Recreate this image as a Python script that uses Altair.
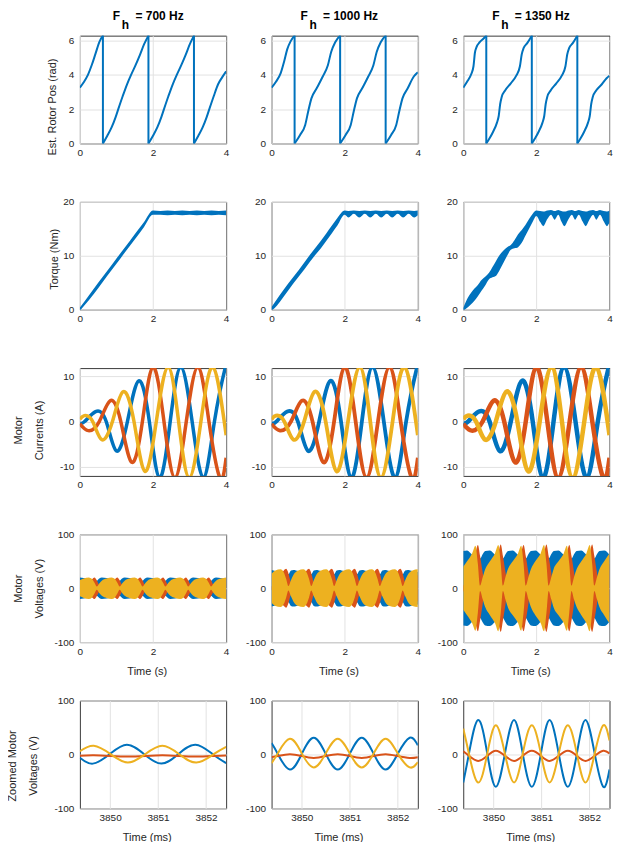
import altair as alt
import pandas as pd

# ---------------- style ----------------
BLUE, RED, YEL = "#0072BD", "#D95319", "#EDB120"
FONT = "Liberation Sans"
W, H = 146.5, 108
TWO_PI = 6.2832

# ---------------- data ----------------
FREQS = ["700", "1000", "1350"]

# Row 1 : estimated rotor position (rad); wraps 2*pi -> 0
WRAP_T = [0.63, 1.875, 3.12]
ROT1_T = [0.00, 0.10, 0.22, 0.33, 0.43, 0.54, 0.63,
          0.63, 0.75, 0.87, 0.98, 1.05, 1.17, 1.29, 1.40, 1.52, 1.64, 1.76, 1.875,
          1.875, 2.00, 2.12, 2.23, 2.30, 2.42, 2.54, 2.65, 2.77, 2.89, 3.01, 3.12,
          3.12, 3.24, 3.36, 3.47, 3.54, 3.66, 3.78, 3.89, 4.00]
ROT1_TH = [3.25, 3.55, 4.00, 4.60, 5.25, 5.95, 6.283,
           0.00, 0.45, 0.95, 1.55, 2.00, 2.75, 3.45, 4.00, 4.55, 5.15, 5.80, 6.283,
           0.00, 0.45, 0.95, 1.55, 2.00, 2.75, 3.45, 4.00, 4.55, 5.15, 5.80, 6.283,
           0.00, 0.45, 0.95, 1.55, 2.00, 2.75, 3.45, 3.85, 4.20]
ROT2_T = [0.00, 0.12, 0.25, 0.34, 0.43, 0.52, 0.63,
          0.63, 0.78, 0.92, 1.00, 1.09, 1.23, 1.40, 1.54, 1.63, 1.74, 1.875,
          1.875, 2.025, 2.165, 2.245, 2.335, 2.475, 2.645, 2.785, 2.875, 2.985, 3.12,
          3.12, 3.27, 3.41, 3.49, 3.58, 3.72, 3.89, 4.00]
ROT2_TH = [3.25, 3.60, 4.10, 4.75, 5.50, 5.95, 6.283,
           0.00, 0.50, 1.08, 1.85, 2.63, 3.20, 3.90, 4.56, 5.33, 5.90, 6.283,
           0.00, 0.50, 1.08, 1.85, 2.63, 3.20, 3.90, 4.56, 5.33, 5.90, 6.283,
           0.00, 0.50, 1.08, 1.85, 2.63, 3.20, 3.90, 4.15]
ROT3_T = [0.00, 0.12, 0.22, 0.28, 0.32, 0.36, 0.45, 0.55, 0.63,
          0.63, 0.72, 0.82, 0.92, 0.97, 1.01, 1.05, 1.15, 1.30, 1.45, 1.55, 1.60, 1.65, 1.75, 1.875,
          1.875, 1.965, 2.065, 2.165, 2.215, 2.255, 2.295, 2.395, 2.545, 2.695, 2.795, 2.845, 2.895, 2.995, 3.12,
          3.12, 3.21, 3.31, 3.41, 3.46, 3.50, 3.54, 3.64, 3.79, 3.92, 4.00]
ROT3_TH = [3.25, 3.65, 4.05, 4.50, 5.30, 5.60, 5.90, 6.10, 6.283,
           0.00, 0.30, 0.70, 1.20, 1.60, 2.30, 2.70, 3.10, 3.50, 3.95, 4.50, 5.20, 5.55, 5.85, 6.283,
           0.00, 0.30, 0.70, 1.20, 1.60, 2.30, 2.70, 3.10, 3.50, 3.95, 4.50, 5.20, 5.55, 5.85, 6.283,
           0.00, 0.30, 0.70, 1.20, 1.60, 2.30, 2.70, 3.10, 3.45, 3.80, 3.95]

# Row 2 : torque (Nm) ripple band
TQ1_T = [0.0, 0.25, 0.5, 0.75, 1.0, 1.25, 1.5, 1.75, 2.0, 2.2, 2.4, 2.6, 2.8, 3.0, 3.2, 3.4, 3.6, 3.8, 4.0]
TQ1_HI = [0.4, 2.7, 5.0, 7.2, 9.5, 11.7, 14.0, 16.2, 18.4, 18.3, 18.4, 18.3, 18.4, 18.3, 18.4, 18.3, 18.4, 18.3, 18.4]
TQ1_LO = [-0.2, 1.8, 4.0, 6.3, 8.5, 10.8, 13.0, 15.3, 17.6, 17.6, 17.5, 17.6, 17.5, 17.6, 17.5, 17.6, 17.5, 17.6, 17.5]
TQ2_T = [0.0, 0.15, 0.3, 0.45, 0.6, 0.75, 0.9, 1.05, 1.2, 1.35, 1.5, 1.65, 1.8,
         2.0, 2.1, 2.25, 2.4, 2.55, 2.7, 2.85, 3.0, 3.15, 3.3, 3.45, 3.6, 3.75, 3.9, 4.0]
TQ2_HI = [0.5, 2.0, 3.4, 4.8, 6.1, 7.4, 8.8, 10.2, 11.5, 12.8, 14.2, 15.6, 17.0,
          18.4, 18.3, 18.4, 18.3, 18.4, 18.3, 18.4, 18.3, 18.4, 18.3, 18.4, 18.3, 18.4, 18.3, 18.4]
TQ2_LO = [-0.2, 0.8, 2.1, 3.5, 4.9, 6.2, 7.5, 8.9, 10.2, 11.4, 12.8, 14.2, 15.6,
          17.6, 17.1, 17.8, 17.1, 17.8, 17.1, 17.8, 17.1, 17.8, 17.1, 17.8, 17.1, 17.8, 17.1, 17.5]
TQ3_T = [0.0, 0.1, 0.2, 0.3, 0.4, 0.5, 0.6, 0.7, 0.8, 0.9, 1.0, 1.1, 1.2, 1.3, 1.4, 1.5, 1.6, 1.7, 1.8, 1.9, 2.0,
         2.1, 2.19, 2.3, 2.4, 2.5, 2.6, 2.68, 2.77, 2.88, 2.97, 3.06, 3.16, 3.26, 3.35, 3.46, 3.55, 3.64, 3.74,
         3.84, 3.93, 4.0]
TQ3_HI = [0.3, 1.9, 3.0, 3.9, 4.6, 5.5, 6.1, 6.8, 7.9, 9.1, 10.2, 11.0, 11.6, 12.0, 12.9, 14.0, 14.8, 15.7, 16.8,
          17.8, 18.4,
          18.3, 18.2, 18.4, 18.5, 18.3, 18.5, 18.3, 18.2, 18.4, 18.5, 18.3, 18.5, 18.3, 18.2, 18.4, 18.5, 18.3,
          18.5, 18.3, 18.2, 18.4]
TQ3_LO = [-0.2, 0.3, 0.9, 1.6, 2.5, 3.5, 4.5, 5.6, 6.0, 6.3, 7.4, 8.7, 10.0, 11.1, 11.4, 11.6, 12.4, 13.7, 15.0,
          16.3, 17.4,
          16.3, 15.5, 16.8, 17.6, 16.7, 17.6, 16.4, 15.5, 16.8, 17.6, 16.7, 17.6, 16.4, 15.5, 16.8, 17.6, 16.7,
          17.6, 16.4, 15.5, 16.2]

# Row 3 : phase currents (A), same in every column
IA_T = [0.0, 0.13, 0.43, 0.72, 1.0, 1.3, 1.61, 1.9, 2.18, 2.47, 2.76, 3.07, 3.38, 3.68, 3.98, 4.0]
IA = [-0.4, 0.0, 2.2, 0.0, -6.5, 0.0, 9.0, 0.0, -12.4, 0.0, 12.0, 0.0, -12.4, 0.0, 12.0, 11.9]
IB_T = [0.0, 0.23, 0.53, 0.83, 1.12, 1.42, 1.71, 2.0, 2.3, 2.6, 2.91, 3.23, 3.53, 3.83, 4.0]
IB = [-0.5, -2.0, 0.0, 4.6, 0.0, -9.0, 0.0, 12.0, 0.0, -12.4, 0.0, 12.0, 0.0, -12.4, -8.0]
IC_T = [0.0, 0.12, 0.35, 0.6, 0.89, 1.18, 1.48, 1.78, 2.09, 2.41, 2.7, 2.99, 3.31, 3.64, 4.0]
IC = [0.5, 1.3, 0.0, -4.0, 0.0, 6.6, 0.0, -11.0, 0.0, 12.0, 0.0, -12.4, 0.0, 12.0, -3.0]

# Row 4 : envelope (+/-) of the phase voltages (V)
VT = [0.0, 0.105, 0.245, 0.335, 0.40,
      0.46, 0.53, 0.60, 0.73, 0.87, 0.96, 1.025,
      1.085, 1.155, 1.225, 1.355, 1.495, 1.585, 1.65,
      1.71, 1.78, 1.85, 1.98, 2.12, 2.21, 2.275,
      2.335, 2.405, 2.475, 2.605, 2.745, 2.835, 2.90,
      2.96, 3.03, 3.10, 3.23, 3.37, 3.46, 3.525,
      3.585, 3.655, 3.725, 3.855, 4.0]
VA1 = [20, 19, 17, 16, 15,
       14, 18, 20, 19, 17, 16, 15,
       14, 18, 20, 19, 17, 16, 15,
       14, 18, 20, 19, 17, 16, 15,
       14, 18, 20, 19, 17, 16, 15,
       14, 18, 20, 19, 17, 16, 15,
       14, 18, 20, 19, 17]
VB1 = [2, 7, 13, 17, 20,
       15, 6, 0, 7, 13, 17, 20,
       15, 6, 0, 7, 13, 17, 20,
       15, 6, 0, 7, 13, 17, 20,
       15, 6, 0, 7, 13, 17, 20,
       15, 6, 0, 7, 13, 17, 20,
       15, 6, 0, 7, 13]
VC1 = [15, 18, 20, 17, 10,
       3, 9, 14, 18, 20, 17, 10,
       3, 9, 14, 18, 20, 17, 10,
       3, 9, 14, 18, 20, 17, 10,
       3, 9, 14, 18, 20, 17, 10,
       3, 9, 14, 18, 20, 17, 10,
       3, 9, 14, 18, 20]
VA2 = [34, 32, 30, 29, 28,
       26, 33, 34, 32, 30, 29, 28,
       26, 33, 34, 32, 30, 29, 28,
       26, 33, 34, 32, 30, 29, 28,
       26, 33, 34, 32, 30, 29, 28,
       26, 33, 34, 32, 30, 29, 28,
       26, 33, 34, 32, 30]
VB2 = [3, 12, 24, 33, 36,
       28, 10, 0, 12, 24, 33, 36,
       28, 10, 0, 12, 24, 33, 36,
       28, 10, 0, 12, 24, 33, 36,
       28, 10, 0, 12, 24, 33, 36,
       28, 10, 0, 12, 24, 33, 36,
       28, 10, 0, 12, 25]
VC2 = [27, 33, 35, 29, 17,
       4, 15, 25, 33, 35, 29, 17,
       4, 15, 25, 33, 35, 29, 17,
       4, 15, 25, 33, 35, 29, 17,
       4, 15, 25, 33, 35, 29, 17,
       4, 15, 25, 33, 35, 29, 17,
       4, 15, 25, 33, 35]
VA3 = [69, 70, 62, 57, 55,
       55, 63, 69, 70, 62, 57, 55,
       55, 63, 69, 70, 62, 57, 55,
       55, 63, 69, 70, 62, 57, 55,
       55, 63, 69, 70, 62, 57, 55,
       55, 63, 69, 70, 62, 57, 55,
       55, 63, 69, 70, 62]
VB3 = [4, 20, 45, 65, 80,
       60, 30, 0, 20, 45, 65, 81,
       60, 30, 0, 20, 45, 65, 80,
       60, 30, 0, 20, 45, 65, 81,
       60, 30, 0, 20, 45, 65, 80,
       60, 30, 0, 20, 45, 65, 81,
       60, 30, 0, 20, 46]
VC3 = [40, 50, 65, 79, 45,
       5, 20, 35, 50, 65, 80, 46,
       5, 21, 36, 50, 64, 79, 45,
       5, 20, 35, 51, 65, 80, 46,
       5, 20, 36, 50, 64, 79, 45,
       5, 21, 35, 50, 65, 80, 46,
       5, 20, 35, 50, 65]

# Row 5 : zoomed phase voltages (V) vs time (ms)
ZT1_A = [3849.37, 3849.64, 3849.99, 3850.35, 3850.71, 3851.07, 3851.42, 3851.78, 3852.14, 3852.42]
ZA1 = [-6, -17, 0.5, 18, 0.5, -17, 0.5, 18, 0.5, -16]
ZT1_BC = [3849.37, 3849.66, 3850.01, 3850.37, 3850.73, 3851.09, 3851.44, 3851.80, 3852.16, 3852.42]
ZB1 = [-2.2, -1.5, -2.8, -4.0, -2.8, -1.5, -2.8, -4.0, -2.8, -1.8]
ZC1 = [6, 16, 0.5, -15, 0.5, 16, 0.5, -15, 0.5, 14]
ZT2 = [3849.37, 3849.50, 3849.75, 3850.00, 3850.25, 3850.50, 3850.75, 3851.00, 3851.25, 3851.50,
       3851.75, 3852.00, 3852.25, 3852.42]
ZA2 = [21, 1, -28, 1, 31, 1, -28, 1, 31, 1, -28, 1, 31, 17]
ZB2 = [-5, -3, 0.5, -3, -6.5, -3, 0.5, -3, -6.5, -3, 0.5, -3, -6.5, -5]
ZC2 = [-16, 2, 29, 2, -24, 2, 29, 2, -24, 2, 29, 2, -24, -14]
ZT3 = [3849.37, 3849.49, 3849.68, 3849.87, 3850.05, 3850.24, 3850.43, 3850.61, 3850.80, 3850.99,
       3851.17, 3851.36, 3851.55, 3851.74, 3851.92, 3852.11, 3852.29, 3852.42]
ZA3 = [-52, 2, 64, 2, -60, 2, 64, 2, -60, 2, 64, 2, -60, 2, 64, 2, -60, -28]
ZB3 = [6, -2.5, -12, -2.5, 7, -2.5, -12, -2.5, 7, -2.5, -12, -2.5, 7, -2.5, -12, -2.5, 7, 2]
ZC3 = [48, 1, -52, 1, 54, 1, -52, 1, 54, 1, -52, 1, 54, 1, -52, 1, 54, 26]

# ---------------- helpers ----------------
LABEL_EXPR = "datum.value < 0 ? '-' + format(-datum.value, 'd') : format(datum.value, 'd')"

Y_SPECS = [
    dict(domain=[0, TWO_PI], values=[0, 2, 4, 6], title="Est. Rotor Pos (rad)", tx=-27, ty=71),
    dict(domain=[0, 20], values=[0, 10, 20], title="Torque (Nm)", tx=-25, ty=57),
    dict(domain=[-12, 11.8], values=[-10, 0, 10], title=["Motor", "Currents (A)"], tx=-61, ty=62),
    dict(domain=[-100, 100], values=[-100, 0, 100], title=["Motor", "Voltages (V)"], tx=-61, ty=54),
    dict(domain=[-100, 100], values=[-100, 0, 100], title=["Zoomed Motor", "Voltages (V)"], tx=-67, ty=65),
]


def x_enc(row):
    if row == 4:
        dom, vals, title, ty = [3849.37, 3852.42], [3850, 3851, 3852], "Time (ms)", 29
    else:
        dom, vals, title, ty = [0, 4], [0, 2, 4], "Time (s)", 29
    scale = alt.Scale(domain=dom, nice=False, zero=False)
    if row >= 3:
        axis = alt.Axis(values=vals, labelExpr=LABEL_EXPR, titleX=67, titleY=ty,
                        titleBaseline="middle", titleAlign="center")
        return alt.X("t:Q", scale=scale, axis=axis, title=title)
    axis = alt.Axis(values=vals, labelExpr=LABEL_EXPR)
    return alt.X("t:Q", scale=scale, axis=axis, title=None)


def y_enc(row, col, field):
    s = Y_SPECS[row]
    scale = alt.Scale(domain=s["domain"], nice=False, zero=False)
    if col == 0:
        axis = alt.Axis(values=s["values"], labelExpr=LABEL_EXPR, titleX=s["tx"], titleY=s["ty"],
                        titleBaseline="middle", titleAlign="center", titleAngle=270,
                        titleLineHeight=21)
        return alt.Y(f"{field}:Q", scale=scale, axis=axis, title=s["title"])
    axis = alt.Axis(values=s["values"], labelExpr=LABEL_EXPR)
    return alt.Y(f"{field}:Q", scale=scale, axis=axis, title=None)


def col_title(c):
    # "F" with the subscript "h" set on a second, lower line (word joiner keeps the leading gap)
    return alt.TitleParams(text=["F\u2003 = " + FREQS[c] + " Hz", "\u2060\u2002\u2005h"],
                           fontSize=12, fontWeight="bold", lineHeight=9, dx=(33 if c == 0 else 29),
                           offset=3, anchor="start", frame="group", font=FONT, color="#000000")


ROT_T = [ROT1_T, ROT2_T, ROT3_T]
ROT_TH = [ROT1_TH, ROT2_TH, ROT3_TH]
TQ_T = [TQ1_T, TQ2_T, TQ3_T]
TQ_HI = [TQ1_HI, TQ2_HI, TQ3_HI]
TQ_LO = [TQ1_LO, TQ2_LO, TQ3_LO]
CUR_W = [3.5, 3.8, 4.5]
V_ENV = [(VA1, VB1, VC1), (VA2, VB2, VC2), (VA3, VB3, VC3)]
Z_SER = [
    ((ZT1_A, ZA1), (ZT1_BC, ZB1), (ZT1_BC, ZC1)),
    ((ZT2, ZA2), (ZT2, ZB2), (ZT2, ZC2)),
    ((ZT3, ZA3), (ZT3, ZB3), (ZT3, ZC3)),
]
COLORS = [BLUE, RED, YEL]


def make_cell(r, c):
    xe = x_enc(r)
    layers = []
    if r == 0:
        df = pd.DataFrame({"t": ROT_T[c], "v": ROT_TH[c]})
        df["seg"] = (df["v"].diff() < 0).cumsum()
        layers.append(alt.Chart(df).mark_line(color=BLUE, strokeWidth=2, interpolate="monotone", clip=True)
                      .encode(x=xe, y=y_enc(0, c, "v"), detail="seg:N"))
        wr = pd.DataFrame({"t": WRAP_T, "lo": [0.0] * len(WRAP_T), "hi": [TWO_PI] * len(WRAP_T)})
        layers.append(alt.Chart(wr).mark_rule(color=BLUE, strokeWidth=2)
                      .encode(x=xe, y=y_enc(0, c, "lo"), y2=alt.Y2("hi")))
    elif r == 1:
        df = pd.DataFrame({"t": TQ_T[c], "hi": TQ_HI[c], "lo": TQ_LO[c]})
        layers.append(alt.Chart(df).mark_area(color=BLUE, interpolate="monotone", clip=True)
                      .encode(x=xe, y=y_enc(1, c, "hi"), y2=alt.Y2("lo")))
    elif r == 2:
        for (tt, vv), colr in zip([(IA_T, IA), (IB_T, IB), (IC_T, IC)], COLORS):
            df = pd.DataFrame({"t": tt, "v": vv})
            layers.append(alt.Chart(df).mark_line(color=colr, strokeWidth=CUR_W[c], interpolate="natural",
                                                  clip=True)
                          .encode(x=xe, y=y_enc(2, c, "v")))
    elif r == 3:
        for amp, colr in zip(V_ENV[c], COLORS):
            df = pd.DataFrame({"t": VT, "hi": amp, "lo": [-a for a in amp]})
            layers.append(alt.Chart(df).mark_area(color=colr, interpolate="monotone", clip=True, opacity=1)
                          .encode(x=xe, y=y_enc(3, c, "hi"), y2=alt.Y2("lo")))
    else:
        for (tt, vv), colr in zip(Z_SER[c], COLORS):
            df = pd.DataFrame({"t": tt, "v": vv})
            layers.append(alt.Chart(df).mark_line(color=colr, strokeWidth=2, interpolate="natural", clip=True)
                          .encode(x=xe, y=y_enc(4, c, "v")))
    ch = alt.layer(*layers).properties(width=W, height=H)
    if r == 0:
        ch = ch.properties(title=col_title(c))
    return ch


cells = [make_cell(r, c) for r in range(5) for c in range(3)]

chart = alt.concat(*cells, columns=3, spacing={"row": 58.5, "column": 45}, bounds="flush").properties(
    padding={"left": -2, "top": 0, "right": 0, "bottom": -2.5}, background="white"
).configure_axis(
    labelFont=FONT, labelFontSize=10, labelColor="#262626",
    titleFont=FONT, titleFontSize=11, titleFontWeight="normal", titleColor="#262626",
    domain=False, tickSize=0, gridColor="#e2e2e2", gridWidth=1,
    labelFlush=False, labelOverlap=False,
).configure_axisX(labelPadding=4).configure_axisY(labelPadding=6).configure_view(
    stroke="#3a3a3a", strokeWidth=1
)

chart.save("out.html", embed_options={"renderer": "svg", "actions": False})
